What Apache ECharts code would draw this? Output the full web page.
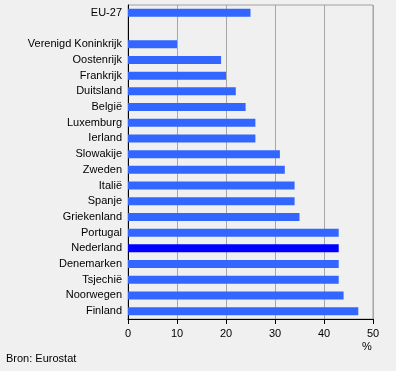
<!DOCTYPE html>
<html><head><meta charset="utf-8">
<script src="https://cdn.jsdelivr.net/npm/echarts@6/dist/echarts.min.js"></script>
<style>html,body{margin:0;padding:0;background:#f0f0f0}#c{width:396px;height:371px}</style>
</head><body><div id="c"></div>
<script>
var categories = ['EU-27','','Verenigd Koninkrijk','Oostenrijk','Frankrijk','Duitsland','België','Luxemburg','Ierland','Slowakije','Zweden','Italië','Spanje','Griekenland','Portugal','Nederland','Denemarken','Tsjechië','Noorwegen','Finland'];
var values = [25,null,10,19,20,22,24,26,26,31,32,34,34,35,43,43,43,43,44,47];
var highlight = 'Nederland';
var xTicks = [0,10,20,30,40,50];

var chart = echarts.init(document.getElementById('c'));
var font = 'Arial, "Liberation Sans", sans-serif';
chart.setOption({
  backgroundColor:'#f0f0f0',
  animation:false,
  grid:{left:128,right:23,top:5,bottom:52,show:true,borderColor:'#a0a0a0',borderWidth:1,backgroundColor:'transparent'},
  xAxis:{type:'value',min:xTicks[0],max:xTicks[xTicks.length-1],interval:10,
    axisLine:{show:true,lineStyle:{color:'#000'}},
    axisTick:{show:true,length:5,lineStyle:{color:'#000'}},
    axisLabel:{color:'#000',fontFamily:font,fontSize:11,margin:9},
    splitLine:{show:true,lineStyle:{color:'#a6a6a6'}}},
  yAxis:{type:'category',data:categories,inverse:true,
    axisLine:{show:true,lineStyle:{color:'#000'}},
    axisTick:{show:false},
    axisLabel:{color:'#000',fontFamily:font,fontSize:11,margin:6}},
  series:[{type:'bar',barWidth:8,
    data:values.map(function(v,i){return {value:v,itemStyle:{color:categories[i]===highlight?'#0000ff':'#3366ff'}};})}],
  graphic:[
    {type:'text',left:362,top:341,style:{text:'%',fill:'#000',font:'11px '+font}},
    {type:'text',left:6,top:353,style:{text:'Bron: Eurostat',fill:'#000',font:'11px '+font}}
  ]
});
</script></body></html>
